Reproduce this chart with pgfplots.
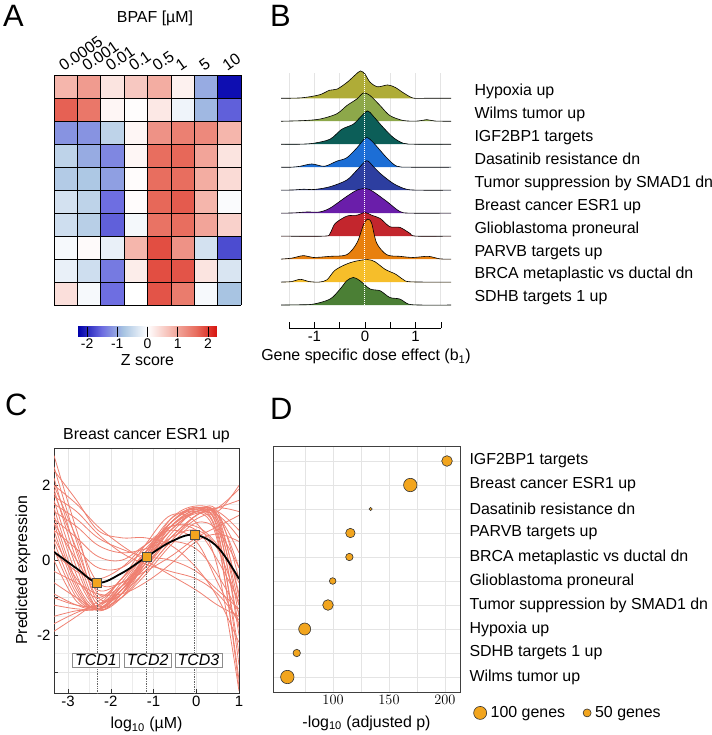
\documentclass[border=0pt]{standalone}
\usepackage{pgfplots}
\pgfplotsset{compat=1.18}
\usepackage{fontspec}
\setmainfont{Liberation Sans}
\setsansfont{Liberation Sans}
\newcommand{\fs}[1]{\fontsize{#1}{#1}\selectfont}
\definecolor{hyp}{RGB}{175,172,55}
\definecolor{wil}{RGB}{141,168,74}
\definecolor{igf}{RGB}{12,94,88}
\definecolor{das}{RGB}{28,110,214}
\definecolor{sma}{RGB}{45,62,160}
\definecolor{esr}{RGB}{106,30,170}
\definecolor{gli}{RGB}{195,38,45}
\definecolor{par}{RGB}{232,128,14}
\definecolor{brc}{RGB}{246,190,42}
\definecolor{sdh}{RGB}{75,127,53}
\definecolor{salm}{RGB}{239,128,113}
\definecolor{orng}{RGB}{242,165,30}
\definecolor{gridc}{RGB}{228,228,228}
\pgfplotsset{
  ridge/.style={draw=black, line width=0.6bp, smooth, tension=0.5, fill=#1},
  gc/.style={color=salm, smooth, tension=0.6, line width=0.8bp, forget plot},
  bub/.style={only marks, mark=*, mark options={fill=orng, draw=black!80, line width=0.6bp}, forget plot},
}
\begin{document}
\begin{tikzpicture}[font=\fs{16}]
\useasboundingbox (0,0) rectangle (712bp,-735bp);
\node[anchor=north west, inner sep=0pt, font=\fs{31}] at (3bp,-5bp) {A};
\node[anchor=north west, inner sep=0pt, font=\fs{31}] at (270bp,-5bp) {B};
\node[anchor=north west, inner sep=0pt, font=\fs{31}] at (5bp,-394bp) {C};
\node[anchor=north west, inner sep=0pt, font=\fs{31}] at (270bp,-398bp) {D};
\node[font=\fs{16}] at (155bp,-18bp) {BPAF [µM]};

% ---------------- Panel A : heatmap
\begin{axis}[
  at={(54bp,-75bp)}, anchor=north west, scale only axis,
  width=187bp, height=230bp,
  xmin=-0.5, xmax=7.5, ymin=-0.5, ymax=9.5,
  axis line style={draw=none},
  major tick length=0pt,
  xtick={0,...,7}, xticklabels={0.0005,0.001,0.01,0.1,0.5,1,5,10},
  xticklabel pos=upper,
  xticklabel shift=3bp,
  xticklabel style={xshift=-2bp, rotate=35, anchor=base west, inner sep=0pt, font=\fs{16}},
  ytick=\empty,
  extra x ticks={-0.5,0.5,...,7.5}, extra x tick labels={},
  extra y ticks={-0.5,0.5,...,9.5}, extra y tick labels={},
  extra x tick style={grid=major, major grid style={black, line width=0.7bp}},
  extra y tick style={grid=major, major grid style={black, line width=0.7bp}},
  axis on top,
  colormap={zs}{rgb255(0cm)=(0,0,170); rgb255(8cm)=(110,110,225); rgb255(15cm)=(168,196,226); rgb255(23cm)=(255,255,255); rgb255(31cm)=(245,182,172); rgb255(39cm)=(232,110,95); rgb255(46cm)=(215,20,15)},
  point meta min=-2.3, point meta max=2.3,
  colorbar horizontal,
  colorbar style={
    at={(parent axis.south)}, anchor=north, yshift=-13bp,
    width=139bp, height=10bp,
    xtick={-2,-1,0,1,2}, xticklabels={-2,-1,0,1,2},
    xticklabel pos=lower,
    xticklabel shift=0pt,
    xticklabel style={rotate=0, anchor=north, inner sep=2bp, xshift=0bp, yshift=0bp, font=\fs{14}},
    xlabel={Z score}, xlabel style={font=\fs{16}},
    axis line style={draw=none},
    extra x ticks={}, extra y ticks={},
    major tick length=10bp, tick align=inside,
    xtick style={black, densely dotted, line width=0.6bp},
  },
]
\addplot[matrix plot*, mesh/cols=8, point meta=explicit] table[meta=z] {
x y z
0 0 0.35
1 0 -0.08
2 0 -1.5
3 0 0.0
4 0 1.8
5 0 1.45
6 0 -0.08
7 0 -0.8
0 1 -0.2
1 1 -0.45
2 1 -1.4
3 1 0.2
4 1 1.85
5 1 1.8
6 1 0.3
7 1 -0.35
0 2 -0.08
1 2 0.05
2 2 -0.2
3 2 0.8
4 2 1.85
5 2 1.2
6 2 -0.4
7 2 -1.75
0 3 -0.45
1 3 -0.65
2 3 -1.6
3 3 -0.1
4 3 1.55
5 3 1.6
6 3 1.0
7 3 0.5
0 4 -0.4
1 4 -0.6
2 4 -1.5
3 4 0.03
4 4 1.65
5 4 1.75
6 4 0.8
7 4 -0.05
0 5 -0.7
1 5 -0.75
2 5 -1.1
3 5 0.03
4 5 1.6
5 5 1.6
6 5 0.9
7 5 0.4
0 6 -0.6
1 6 -1.0
2 6 -1.3
3 6 0.1
4 6 1.6
5 6 1.65
6 6 1.0
7 6 0.3
0 7 -1.2
1 7 -1.2
2 7 -0.6
3 7 0.1
4 7 1.2
5 7 1.4
6 7 1.3
7 7 0.8
0 8 1.7
1 8 1.5
2 8 0.1
3 8 0.02
4 8 0.25
5 8 -0.15
6 8 -0.9
7 8 -1.6
0 9 0.8
1 9 1.1
2 9 0.3
3 9 0.6
4 9 0.9
5 9 0.15
6 9 -1.0
7 9 -2.2
};
\end{axis}

% ---------------- Panel B : ridgelines
\begin{axis}[
  at={(281bp,-73bp)}, anchor=north west, scale only axis,
  width=170bp, height=255bp,
  xmin=-1.66, xmax=1.70, ymin=-1, ymax=10.1,
  axis y line=none, axis x line*=bottom, x axis line style={draw=none},
  xtick={-1.5,-1,...,1.5}, xticklabels={,-1,,0,,1,},
  tick align=inside, major tick length=6bp,
  xtick style={black, line width=0.6bp},
  xticklabel style={font=\fs{15}},
  xlabel={Gene specific dose effect (b\textsubscript{1})},
  xlabel style={font=\fs{16}},
  clip=false,
]
\pgfplotsinvokeforeach{-1.5,-1,-0.5,0,0.5,1,1.5}{
  \draw[gridc, line width=0.8bp] (axis cs:#1,0) -- (axis cs:#1,10.1);
}
\draw[black, line width=0.6bp] (axis cs:-1.5,-1) -- (axis cs:1.5,-1);
\addplot[ridge=hyp] table[y expr=\thisrow{h}+9] {
x h
-1.66 0
-1.25 0.02
-0.9 0.15
-0.7 0.35
-0.55 0.4
-0.35 0.7
-0.2 1.0
-0.09 1.19
0.0 1.05
0.1 0.7
0.25 0.5
0.45 0.58
0.6 0.47
0.75 0.25
0.95 0.01
1.2 0
1.70 0
};
\addplot[ridge=wil] table[y expr=\thisrow{h}+8] {
x h
-1.66 0
-1.2 0.03
-0.88 0.1
-0.56 0.32
-0.36 0.68
-0.16 0.97
-0.03 1.23
0.1 1.12
0.3 0.68
0.49 0.25
0.76 0.03
1.05 0.01
1.22 0.07
1.38 0.01
1.70 0
};
\addplot[ridge=igf] table[y expr=\thisrow{h}+7] {
x h
-1.66 0
-1.3 0
-1.02 0.04
-0.69 0.22
-0.46 0.65
-0.23 0.87
-0.1 1.16
0.05 1.45
0.16 1.23
0.36 0.73
0.56 0.29
0.76 0.04
1.0 0
1.70 0
};
\addplot[ridge=das] table[y expr=\thisrow{h}+6] {
x h
-1.66 0
-1.45 0
-1.28 0.04
-1.05 0.14
-0.8 0.04
-0.56 0.26
-0.36 0.41
-0.16 0.84
0.02 1.28
0.16 1.08
0.43 0.41
0.63 0.04
0.9 0
1.70 0
};
\addplot[ridge=sma] table[y expr=\thisrow{h}+5] {
x h
-1.66 0
-1.4 0.01
-1.22 0.04
-1.0 0.03
-0.69 0.15
-0.36 0.44
-0.16 0.87
0.03 1.28
0.16 1.04
0.30 0.73
0.56 0.29
0.82 0.04
1.1 0
1.70 0
};
\addplot[ridge=esr] table[y expr=\thisrow{h}+4] {
x h
-1.66 0
-1.4 0.01
-1.15 0.05
-0.9 0.05
-0.69 0.22
-0.36 0.73
-0.16 1.0
0.02 1.07
0.16 0.94
0.43 0.51
0.69 0.07
0.9 0
1.70 0
};
\addplot[ridge=gli] table[y expr=\thisrow{h}+3] {
x h
-1.66 0
-0.8 0
-0.69 0.12
-0.59 0.55
-0.36 0.87
-0.16 0.91
0.0 1.03
0.13 0.91
0.30 0.77
0.49 0.41
0.69 0.38
0.89 0.12
1.0 0
1.70 0
};
\addplot[ridge=par] table[y expr=\thisrow{h}+2] {
x h
-1.66 0
-1.45 0.04
-1.22 0.15
-1.02 0.07
-0.69 0.12
-0.36 0.19
-0.16 0.70
-0.03 1.49
0.05 1.74
0.13 1.57
0.23 0.70
0.43 0.19
0.69 0.12
0.95 0.07
1.25 0.12
1.48 0.01
1.70 0
};
\addplot[ridge=brc] table[y expr=\thisrow{h}+1] {
x h
-1.66 0
-1.45 0.02
-1.28 0.12
-1.1 0.02
-0.9 0.0
-0.75 0.1
-0.6 0.5
-0.4 0.75
-0.2 0.9
0.05 0.98
0.2 0.88
0.4 0.55
0.6 0.35
0.75 0.12
0.9 0.01
1.70 0
};
\addplot[ridge=sdh] table[y expr=\thisrow{h}+0] {
x h
-1.66 0
-1.3 0.01
-1.02 0.04
-0.69 0.26
-0.49 0.70
-0.36 1.06
-0.23 1.2
-0.1 1.06
0.1 0.7
0.3 0.62
0.49 0.33
0.69 0.26
0.86 0.04
1.1 0
1.70 0
};
\draw[white, densely dotted, line width=1bp] (axis cs:0,0) -- (axis cs:0,10.15);
\end{axis}
\node[anchor=base west] at (471bp,-95.7bp) {Hypoxia up};
\node[anchor=base west] at (471bp,-118.6bp) {Wilms tumor up};
\node[anchor=base west] at (471bp,-141.5bp) {IGF2BP1 targets};
\node[anchor=base west] at (471bp,-164.4bp) {Dasatinib resistance dn};
\node[anchor=base west] at (471bp,-187.3bp) {Tumor suppression by SMAD1 dn};
\node[anchor=base west] at (471bp,-210.2bp) {Breast cancer ESR1 up};
\node[anchor=base west] at (471bp,-233.1bp) {Glioblastoma proneural};
\node[anchor=base west] at (471bp,-256bp) {PARVB targets up};
\node[anchor=base west] at (471bp,-278.9bp) {BRCA metaplastic vs ductal dn};
\node[anchor=base west] at (471bp,-301.8bp) {SDHB targets 1 up};

% ---------------- Panel C : dose response curves
\begin{axis}[
  at={(54bp,-448bp)}, anchor=north west, scale only axis,
  width=185bp, height=245bp,
  xmin=-3.33, xmax=1, ymin=-3.55, ymax=3,
  xtick={-3,...,1}, xticklabels={-3,-2,-1,0,1},
  ytick={-3,...,2}, yticklabels={,-2,,0,,2},
  minor x tick num=1, minor y tick num=1,
  grid=both, major grid style={gridc, line width=0.6bp}, minor grid style={gridc!70, line width=0.5bp},
  tick align=inside, tick pos=left, major tick length=4bp, minor tick length=0pt,
  tick style={black!80, line width=0.6bp},
  axis line style={black!80, line width=0.8bp},
  ticklabel style={font=\fs{15}},
  title={Breast cancer ESR1 up}, title style={font=\fs{16}, yshift=-4bp},
  xlabel={log\textsubscript{10} (µM)}, ylabel={Predicted expression},
  label style={font=\fs{16}},
  xlabel style={yshift=-3bp},
]
\addplot[gc] coordinates {(-3.33,2.8)(-2.8,0.8)(-2.3,-0.9)(-1.75,-0.5)(-1.2,0.2)(-0.6,0.9)(0,1.3)(0.5,0.6)(1,-3.4)};
\addplot[gc] coordinates {(-3.33,2.5)(-2.8,0.5)(-2.3,-1.1)(-1.75,-0.7)(-1.2,0.1)(-0.6,1.0)(0,1.4)(0.5,0.8)(1,-2.8)};
\addplot[gc] coordinates {(-3.33,2.2)(-2.8,0.2)(-2.3,-1.2)(-1.75,-0.8)(-1.2,0.0)(-0.6,1.0)(0,1.4)(0.5,1.0)(1,-2.0)};
\addplot[gc] coordinates {(-3.33,1.9)(-2.8,0.0)(-2.3,-1.3)(-1.75,-0.9)(-1.2,-0.1)(-0.6,0.9)(0,1.35)(0.5,1.1)(1,-1.5)};
\addplot[gc] coordinates {(-3.33,1.6)(-2.8,-0.2)(-2.3,-1.3)(-1.75,-0.9)(-1.2,0.0)(-0.6,0.9)(0,1.3)(0.5,1.2)(1,-1.0)};
\addplot[gc] coordinates {(-3.33,1.4)(-2.8,-0.4)(-2.3,-1.3)(-1.75,-1.0)(-1.2,-0.1)(-0.6,0.8)(0,1.3)(0.5,1.3)(1,-0.5)};
\addplot[gc] coordinates {(-3.33,1.2)(-2.8,-0.6)(-2.3,-1.3)(-1.75,-0.8)(-1.2,0.0)(-0.6,0.8)(0,1.25)(0.5,1.0)(1,-1.2)};
\addplot[gc] coordinates {(-3.33,1.0)(-2.8,-0.7)(-2.3,-1.35)(-1.75,-0.9)(-1.2,0.1)(-0.6,1.0)(0,1.4)(0.5,0.7)(1,-2.5)};
\addplot[gc] coordinates {(-3.33,0.8)(-2.8,-0.8)(-2.3,-1.3)(-1.75,-0.8)(-1.2,0.1)(-0.6,1.0)(0,1.3)(0.5,0.5)(1,-3.2)};
\addplot[gc] coordinates {(-3.33,0.5)(-2.8,-0.9)(-2.3,-1.3)(-1.75,-0.7)(-1.2,0.2)(-0.6,1.1)(0,1.35)(0.5,0.9)(1,-1.8)};
\addplot[gc] coordinates {(-3.33,0.3)(-2.8,-1.0)(-2.3,-1.25)(-1.75,-0.6)(-1.2,0.2)(-0.6,1.0)(0,1.4)(0.5,1.2)(1,0.2)};
\addplot[gc] coordinates {(-3.33,0.0)(-2.8,-1.1)(-2.3,-1.2)(-1.75,-0.5)(-1.2,0.2)(-0.6,0.9)(0,1.3)(0.5,1.3)(1,0.8)};
\addplot[gc] coordinates {(-3.33,-1.9)(-2.8,-1.5)(-2.3,-1.1)(-1.75,-0.7)(-1.2,-0.2)(-0.6,0.6)(0,1.2)(0.5,1.4)(1,1.6)};
\addplot[gc] coordinates {(-3.33,-1.7)(-2.8,-1.4)(-2.3,-1.2)(-1.75,-0.8)(-1.2,-0.1)(-0.6,0.8)(0,1.3)(0.5,1.3)(1,2.0)};
\addplot[gc] coordinates {(-3.33,-1.5)(-2.8,-1.35)(-2.3,-1.3)(-1.75,-0.9)(-1.2,-0.3)(-0.6,0.5)(0,1.1)(0.5,1.2)(1,0.6)};
\addplot[gc] coordinates {(-3.33,-1.2)(-2.8,-1.3)(-2.3,-1.3)(-1.75,-1.0)(-1.2,-0.4)(-0.6,0.4)(0,1.0)(0.5,0.8)(1,-0.2)};
\addplot[gc] coordinates {(-3.33,-1.0)(-2.8,-1.2)(-2.3,-1.2)(-1.75,-0.7)(-1.2,0.0)(-0.6,0.6)(0,0.8)(0.5,0.3)(1,-1.2)};
\addplot[gc] coordinates {(-3.33,-0.6)(-2.8,-1.0)(-2.3,-1.3)(-1.75,-1.0)(-1.2,-0.3)(-0.6,0.5)(0,1.2)(0.5,1.4)(1,1.3)};
\addplot[gc] coordinates {(-3.33,2.0)(-2.8,1.5)(-2.3,0.9)(-1.75,0.4)(-1.2,0.0)(-0.6,-0.4)(0,-0.8)(0.5,-1.2)(1,-1.5)};
\addplot[gc] coordinates {(-3.33,1.7)(-2.8,1.3)(-2.3,0.7)(-1.75,0.2)(-1.2,-0.1)(-0.6,-0.3)(0,-0.5)(0.5,-0.9)(1,-1.6)};
\addplot[gc] coordinates {(-3.33,1.5)(-2.8,1.1)(-2.3,0.6)(-1.75,0.3)(-1.2,0.1)(-0.6,0.0)(0,-0.3)(0.5,-0.8)(1,-1.3)};
\addplot[gc] coordinates {(-3.33,2.4)(-2.8,1.6)(-2.3,0.8)(-1.75,0.6)(-1.2,0.6)(-0.6,0.4)(0,-0.2)(0.5,-1.0)(1,-2.2)};
\addplot[gc] coordinates {(-3.33,1.3)(-2.8,0.9)(-2.3,0.4)(-1.75,0.2)(-1.2,0.3)(-0.6,0.5)(0,0.3)(0.5,-0.4)(1,-1.4)};
\addplot[gc] coordinates {(-3.33,0.8)(-2.8,0.3)(-2.3,-0.2)(-1.75,-0.2)(-1.2,0.3)(-0.6,0.9)(0,0.8)(0.5,0.0)(1,-1.1)};
\addplot[gc] coordinates {(-3.33,1.1)(-2.8,0.6)(-2.3,0.1)(-1.75,0.0)(-1.2,0.4)(-0.6,0.8)(0,0.5)(0.5,-0.6)(1,-1.7)};
\addplot[gc] coordinates {(-3.33,0.2)(-2.8,-0.3)(-2.3,-0.5)(-1.75,-0.2)(-1.2,0.4)(-0.6,0.9)(0,0.9)(0.5,0.4)(1,-0.6)};
\addplot[gc] coordinates {(-3.33,2.0)(-2.8,0.6)(-2.3,-0.6)(-1.75,-0.6)(-1.2,-0.1)(-0.6,0.6)(0,1.2)(0.5,1.4)(1,1.9)};
\addplot[gc] coordinates {(-3.33,1.0)(-2.8,0.0)(-2.3,-0.8)(-1.75,-0.6)(-1.2,-0.3)(-0.6,0.1)(0,0.6)(0.5,0.9)(1,1.2)};
\addplot[gc] coordinates {(-3.33,-0.3)(-2.8,-0.6)(-2.3,-0.9)(-1.75,-0.9)(-1.2,-0.6)(-0.6,-0.1)(0,0.5)(0.5,0.7)(1,0.5)};
\addplot[gc] coordinates {(-3.33,0.6)(-2.8,-0.5)(-2.3,-1.0)(-1.75,-0.5)(-1.2,0.4)(-0.6,1.2)(0,1.0)(0.5,-0.2)(1,-3.5)};
\addplot[gc] coordinates {(-3.33,1.8)(-2.8,0.3)(-2.3,-1.0)(-1.75,-0.9)(-1.2,0.0)(-0.6,1.1)(0,1.45)(0.5,1.2)(1,-0.2)};
\addplot[gc] coordinates {(-3.33,-0.9)(-2.8,-1.2)(-2.3,-1.3)(-1.75,-0.8)(-1.2,-0.2)(-0.6,0.7)(0,1.3)(0.5,1.1)(1,-0.9)};
\draw[densely dotted, black!60, line width=0.7bp] (axis cs:-2.32,-0.6) -- (axis cs:-2.32,-3.55);
\draw[densely dotted, black!60, line width=0.7bp] (axis cs:-1.16,0.08) -- (axis cs:-1.16,-3.55);
\draw[densely dotted, black!60, line width=0.7bp] (axis cs:-0.04,0.68) -- (axis cs:-0.04,-3.55);
\addplot[black, smooth, tension=0.6, line width=1.8bp] coordinates {(-3.33,0.22)(-2.8,-0.22)(-2.3,-0.6)(-1.75,-0.35)(-1.2,0.06)(-0.6,0.49)(-0.05,0.68)(0.5,0.35)(1,-0.5)};
\addplot[only marks, mark=square*, mark size=4.5bp, mark options={fill=orng, draw=black!70, line width=0.6bp}] coordinates {(-2.32,-0.6)(-1.16,0.08)(-0.04,0.68)};
\node[draw=black!45, fill=white, inner xsep=2.5bp, inner ysep=1.5bp, font=\fs{16}\itshape] at (axis cs:-2.35,-2.68) {TCD1};
\node[draw=black!45, fill=white, inner xsep=2.5bp, inner ysep=1.5bp, font=\fs{16}\itshape] at (axis cs:-1.14,-2.68) {TCD2};
\node[draw=black!45, fill=white, inner xsep=2.5bp, inner ysep=1.5bp, font=\fs{16}\itshape] at (axis cs:0.05,-2.68) {TCD3};
\end{axis}

% ---------------- Panel D : bubble plot
\begin{axis}[
  at={(273bp,-446bp)}, anchor=north west, scale only axis,
  width=187bp, height=246bp,
  xmin=46.4, xmax=213.4, ymin=0.375, ymax=10.625,
  xtick={100,150,200}, minor xtick={75,125,175},
  ytick={1,...,10},
  yticklabels={Wilms tumor up, SDHB targets 1 up, Hypoxia up, Tumor suppression by SMAD1 dn, Glioblastoma proneural, BRCA metaplastic vs ductal dn, PARVB targets up, Dasatinib resistance dn, Breast cancer ESR1 up, IGF2BP1 targets},
  yticklabel pos=right,
  yticklabel style={anchor=west, font=\fs{16}, xshift=6bp},
  xticklabel style={font=\fs{15}},
  xmajorgrids, xminorgrids, ymajorgrids,
  major grid style={gridc, line width=0.6bp}, minor grid style={gridc, line width=0.6bp},
  major tick length=0pt, minor tick length=0pt,
  axis line style={black!75, line width=0.8bp},
  xlabel={-log\textsubscript{10} (adjusted p)}, xlabel style={font=\fs{16}, yshift=-4bp},
  legend columns=2,
  legend style={at={(1.072,-0.085)}, anchor=west, draw=none, fill=none, font=\fs{16}, inner sep=0pt, nodes={inner xsep=4bp}, /tikz/every even column/.append style={column sep=14bp}},
  legend cell align=left,
]
\addplot[bub, mark size=5.3bp] coordinates {(201.8,10)};
\addplot[bub, mark size=6.7bp] coordinates {(169,9)};
\addplot[bub, mark size=1.6bp] coordinates {(133.6,8)};
\addplot[bub, mark size=4.7bp] coordinates {(115.5,7)};
\addplot[bub, mark size=3.7bp] coordinates {(114.6,6)};
\addplot[bub, mark size=3.3bp] coordinates {(99.7,5)};
\addplot[bub, mark size=5.3bp] coordinates {(95.5,4)};
\addplot[bub, mark size=6.0bp] coordinates {(74.7,3)};
\addplot[bub, mark size=3.7bp] coordinates {(67.6,2)};
\addplot[bub, mark size=6.7bp] coordinates {(59.2,1)};
\addlegendimage{only marks, mark=*, mark size=6.5bp, mark options={fill=orng, draw=black!80, line width=0.6bp}}
\addlegendentry{100 genes}
\addlegendimage{only marks, mark=*, mark size=4bp, mark options={fill=orng, draw=black!80, line width=0.6bp}}
\addlegendentry{50 genes}
\end{axis}
\end{tikzpicture}
\end{document}
